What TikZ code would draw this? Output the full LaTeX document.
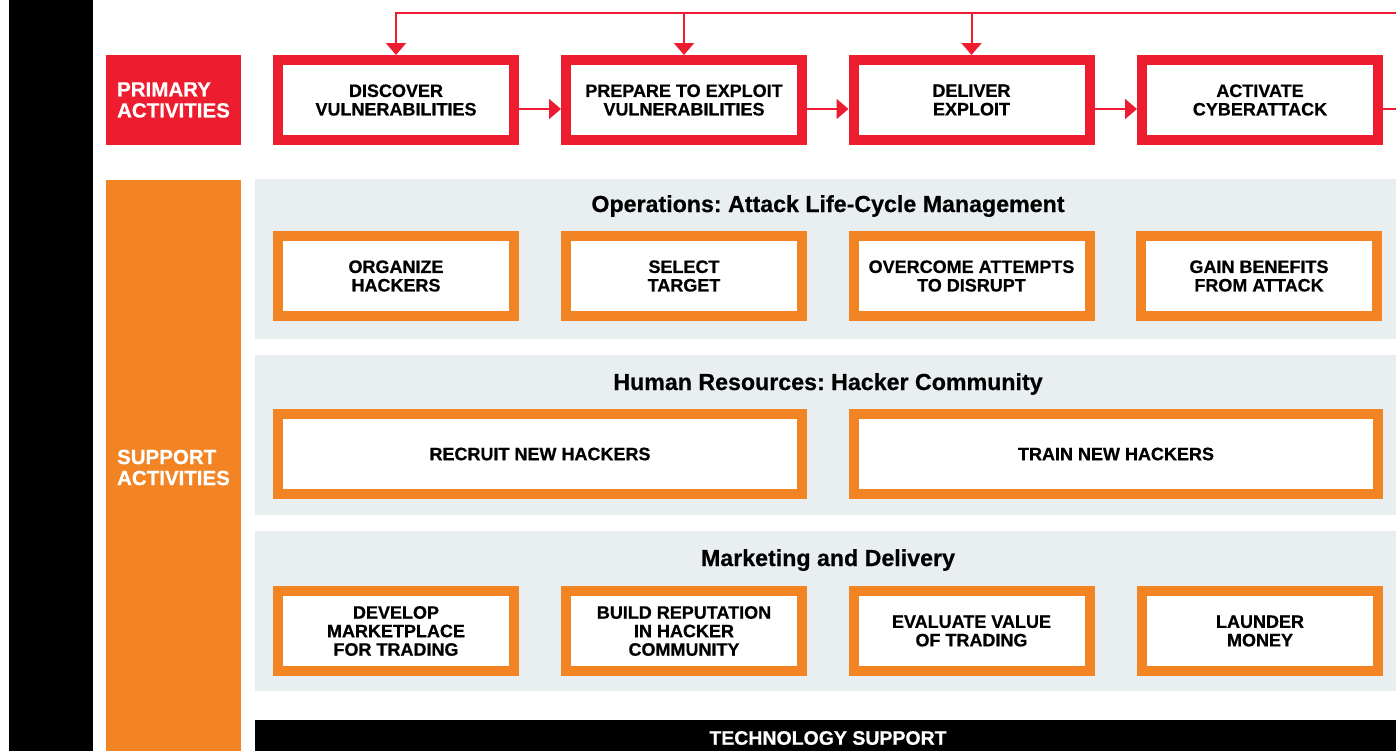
\documentclass[tikz,border=0pt]{standalone}
\usepackage{fontspec}
\setmainfont[BoldFeatures={FakeBold=0.6}]{Liberation Sans}
\usetikzlibrary{arrows.meta}
\definecolor{cred}{RGB}{237,28,46}
\definecolor{corange}{RGB}{243,132,36}
\definecolor{cpanel}{RGB}{233,238,241}
\frenchspacing

\begin{document}
\begin{tikzpicture}[x=1pt,y=-1pt,
  stagebox/.style={draw=cred, fill=white, line width=10pt, minimum width=236pt,
    minimum height=80pt, inner sep=0pt, align=center,
    font=\bfseries\fontsize{18}{18.5}\selectfont},
  supbox/.style={stagebox, draw=corange},
  widebox/.style={supbox, minimum width=524pt},
  sidelabel/.style={minimum width=135pt, inner sep=0pt, text=white, align=left,
    font=\bfseries\fontsize{20.5}{21}\selectfont},
  panel/.style={fill=cpanel, minimum width=1146pt, minimum height=160pt, inner sep=0pt},
  paneltitle/.style={anchor=base, font=\bfseries\fontsize{23.2}{25}\selectfont},
  flowline/.style={draw=cred, line width=2pt},
  flow/.style={flowline, -{Triangle[length=12pt,width=20pt]}}
]
\clip (0,0) rectangle (1396,750);

% left black band
\node[fill=black, minimum width=84pt, minimum height=760pt, inner sep=0pt] (band) at (51,375) {};

% side labels
\node[sidelabel, fill=cred, minimum height=90pt] (primary) at (173.5,100) {PRIMARY\\ACTIVITIES};
\node[sidelabel, fill=corange, minimum height=575pt] (support) at (173.5,467.5) {SUPPORT\\ACTIVITIES};

% support panels
\node[panel] (ops) at (828,259) {};
\node[panel] (hr)  at (828,435) {};
\node[panel] (mkt) at (828,611) {};
\node[paneltitle] (opsT) at (828,212) {Operations: Attack Life-Cycle Management};
\node[paneltitle] (hrT)  at (828,390) {Human Resources: Hacker Community};
\node[paneltitle] (mktT) at (828,566) {Marketing and Delivery};

% technology support bar
\node[fill=black, minimum width=1146pt, minimum height=36pt, inner sep=0pt, text=white,
  font=\bfseries\fontsize{19.5}{20}\selectfont] (tech) at (828,738) {TECHNOLOGY SUPPORT};

% primary activity chain
\node[stagebox] (p1) at (396,100)   {DISCOVER\\VULNERABILITIES};
\node[stagebox] (p2) at (684,100)   {PREPARE TO EXPLOIT\\VULNERABILITIES};
\node[stagebox] (p3) at (971.5,100) {DELIVER\\EXPLOIT};
\node[stagebox] (p4) at (1260,100)  {ACTIVATE\\CYBERATTACK};

% operations
\node[supbox] (o1) at (396,276)   {ORGANIZE\\HACKERS};
\node[supbox] (o2) at (684,276)   {SELECT\\TARGET};
\node[supbox] (o3) at (971.5,276) {OVERCOME ATTEMPTS\\TO DISRUPT};
\node[supbox] (o4) at (1259,276)  {GAIN BENEFITS\\FROM ATTACK};

% human resources
\node[widebox] (h1) at (540,454)  {RECRUIT NEW HACKERS};
\node[widebox] (h2) at (1116,454) {TRAIN NEW HACKERS};

% marketing and delivery
\node[supbox] (m1) at (396,631)   {DEVELOP\\MARKETPLACE\\FOR TRADING};
\node[supbox] (m2) at (684,631)   {BUILD REPUTATION\\IN HACKER\\COMMUNITY};
\node[supbox] (m3) at (971.5,631) {EVALUATE VALUE\\OF TRADING};
\node[supbox] (m4) at (1260,631)  {LAUNDER\\MONEY};

% connectors
\coordinate (lane) at (0,109);
\coordinate (fbR) at (1400,13);
\draw[flow] (p1.east |- lane) -- (p2.west |- lane);
\draw[flow] (p2.east |- lane) -- (p3.west |- lane);
\draw[flow] (p3.east |- lane) -- (p4.west |- lane);
\draw[flowline] (p4.east |- lane) -- (fbR |- lane);
\draw[flow] (fbR) -| (p1.north);
\draw[flow] (p2.north |- fbR) -- (p2.north);
\draw[flow] (p3.north |- fbR) -- (p3.north);
\end{tikzpicture}
\end{document}
